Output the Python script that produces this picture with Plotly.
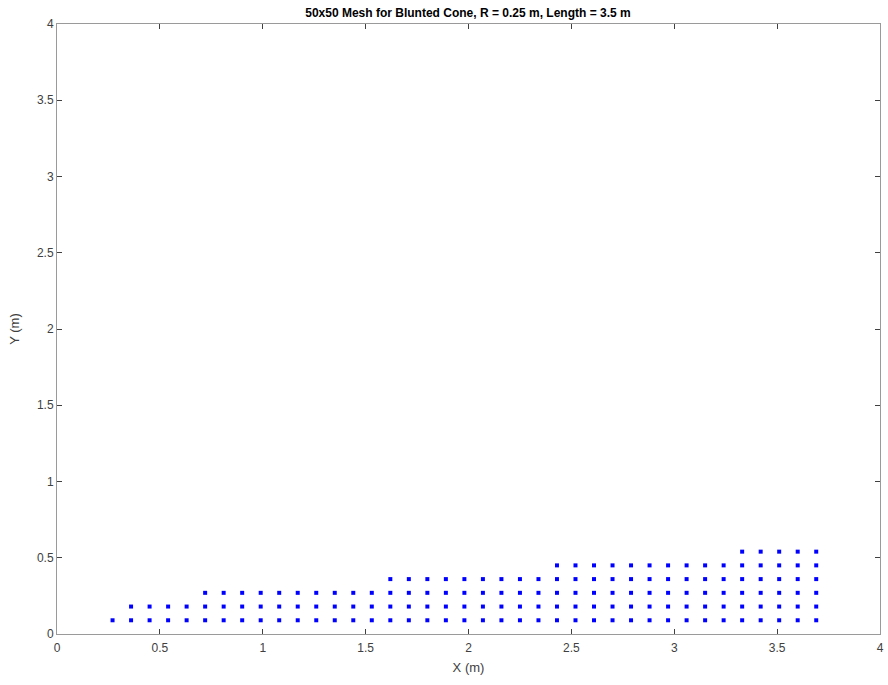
import plotly.graph_objects as go

# Mesh column x-positions (m) and number of mesh rows in each column
x_cols = [0.27, 0.36, 0.45, 0.54, 0.63,
          0.72, 0.81, 0.90, 0.99, 1.08, 1.17, 1.26, 1.35, 1.44, 1.53,
          1.62, 1.71, 1.80, 1.89, 1.98, 2.07, 2.16, 2.25, 2.34,
          2.43, 2.52, 2.61, 2.70, 2.79, 2.88, 2.97, 3.06, 3.15, 3.24,
          3.33, 3.42, 3.51, 3.60, 3.69]
n_rows = [1, 2, 2, 2, 2,
          3, 3, 3, 3, 3, 3, 3, 3, 3, 3,
          4, 4, 4, 4, 4, 4, 4, 4, 4,
          5, 5, 5, 5, 5, 5, 5, 5, 5, 5,
          6, 6, 6, 6, 6]
y_rows = [0.09, 0.18, 0.27, 0.36, 0.45, 0.54]

xs, ys = [], []
for xc, n in zip(x_cols, n_rows):
    for yr in y_rows[:n]:
        xs.append(xc)
        ys.append(yr)

tick_vals = [0, 0.5, 1, 1.5, 2, 2.5, 3, 3.5, 4]
tick_text = ["0", "0.5", "1", "1.5", "2", "2.5", "3", "3.5", "4"]

fig = go.Figure()
fig.add_trace(go.Scatter(
    x=xs, y=ys, mode="markers",
    marker=dict(symbol="square", size=4, color="#0000ff", line=dict(width=0)),
    showlegend=False, hoverinfo="x+y"))

font_family = "Liberation Sans, Arial, Helvetica, sans-serif"
axis_common = dict(
    range=[0, 4], tickvals=tick_vals, ticktext=tick_text,
    ticks="inside", ticklen=5, tickwidth=1, tickcolor="#404040",
    showline=True, linecolor="#9a9a9a", linewidth=1, mirror="ticks",
    showgrid=False, zeroline=False, automargin=False,
    tickfont=dict(family=font_family, size=12, color="#404040"),
)
fig.update_layout(
    width=888, height=685,
    margin=dict(l=57, r=8, t=24, b=51, autoexpand=False),
    paper_bgcolor="white", plot_bgcolor="white",
    title=dict(text="<b>50x50 Mesh for Blunted Cone, R = 0.25 m, Length = 3.5 m</b>",
               x=0.527, xanchor="center", y=0.988, yanchor="top",
               font=dict(family=font_family, size=12, color="#000000")),
    xaxis=dict(**axis_common, ticklabelstandoff=3,
               title=dict(text="X (m)", standoff=8,
                          font=dict(family=font_family, size=13, color="#404040"))),
    yaxis=dict(**axis_common,
               title=dict(text="Y (m)", standoff=14,
                          font=dict(family=font_family, size=13, color="#404040"))),
)
fig.write_html("out.html", config={"displayModeBar": False},
               post_script="document.body.style.margin='0';document.body.style.overflow='hidden';")
